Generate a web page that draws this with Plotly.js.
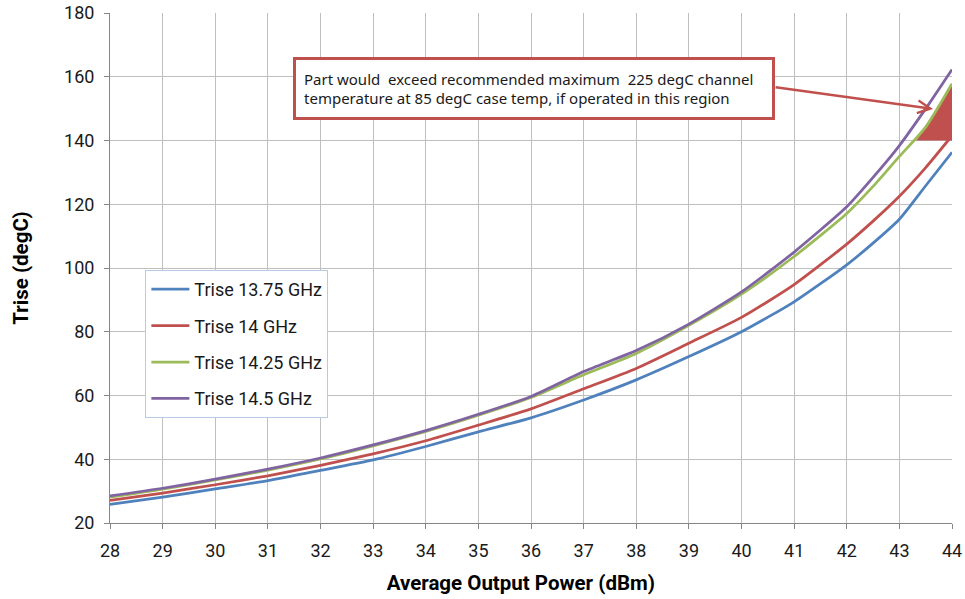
<!DOCTYPE html>
<html>
<head>
<meta charset="utf-8">
<script src="https://cdn.plot.ly/plotly-3.0.1.min.js"></script>
<style>
  html, body { margin: 0; padding: 0; background: #ffffff; }
  #chart { width: 965px; height: 599px; }
</style>
</head>
<body>
<div id="chart"></div>
<script>
// Output power (dBm)
const powerDbm = [28, 29, 30, 31, 32, 33, 34, 35, 36, 37, 38, 39, 40, 41, 42, 42.5, 43, 43.5, 44];

// Temperature rise (degC) per frequency
const trise1375 = [25.8, 28.1, 30.7, 33.3, 36.5, 39.8, 44.0, 48.6, 53.0, 58.6, 64.9, 72.2, 80.0, 89.4, 101.0, 107.8, 115.3, 125.8, 136.3];
const trise14   = [27.1, 29.4, 32.0, 34.8, 38.1, 41.7, 45.8, 50.7, 55.8, 62.1, 68.5, 76.4, 84.5, 94.8, 107.5, 114.7, 122.5, 131.5, 141.5];
const trise1425 = [28.1, 30.6, 33.5, 36.6, 40.1, 44.2, 48.7, 53.8, 59.4, 66.5, 73.2, 82.0, 91.8, 103.6, 117.1, 125.6, 135.0, 144.2, 157.8];
const trise145  = [28.5, 30.9, 33.75, 36.9, 40.4, 44.5, 49.0, 54.1, 59.7, 67.5, 74.1, 82.4, 92.5, 105.0, 119.2, 128.4, 138.4, 150.0, 162.3];

const seriesNames = ["Trise 13.75 GHz", "Trise 14 GHz", "Trise 14.25 GHz", "Trise 14.5 GHz"];
const seriesColors = ["#4F81BD", "#C0504D", "#9BBB59", "#8064A2"];

// Region above 225 degC channel temperature (hand-drawn warning triangle)
const regionX = [43.33, 44, 44];
const regionY = [140, 157.5, 140];

// Callout
const calloutText = "Part would  exceed recommended maximum  225 degC channel<br>temperature at 85 degC case temp, if operated in this region";
const calloutCenter = [36.06, 156.3];
const arrowTail = [40.62, 156.8];
const arrowHead = [43.64, 149.9];

const xTicks = [28, 29, 30, 31, 32, 33, 34, 35, 36, 37, 38, 39, 40, 41, 42, 43, 44];
const yTicks = [20, 40, 60, 80, 100, 120, 140, 160, 180];

const seriesData = [trise1375, trise14, trise1425, trise145];

const traces = [{
  x: regionX, y: regionY, type: "scatter", mode: "lines",
  fill: "toself", fillcolor: "#C0504D", line: { color: "#C0504D", width: 1 },
  showlegend: false, hoverinfo: "skip", legendgroup: "region"
}];
seriesData.forEach((ys, i) => {
  traces.push({
    x: powerDbm, y: ys, type: "scatter", mode: "lines",
    name: seriesNames[i], legendgroup: "g" + i,
    line: { color: seriesColors[i], width: 2.75, shape: "spline", smoothing: 0.6 }
  });
});

const tickFont = { family: "Roboto, sans-serif", size: 18, color: "#1a1a1a" };
const titleFont = { family: "Roboto, sans-serif", size: 20.5, color: "#000000", weight: "bold" };

const layout = {
  width: 965, height: 599,
  margin: { l: 110, r: 13, t: 13, b: 76 },
  paper_bgcolor: "#ffffff", plot_bgcolor: "#ffffff",
  font: { family: "Roboto, sans-serif" },
  xaxis: {
    range: [28, 44], tickvals: xTicks, ticktext: xTicks.map(String),
    showgrid: true, gridcolor: "#BFBFBF", gridwidth: 1,
    showline: true, linecolor: "#868686", linewidth: 1,
    ticks: "outside", ticklen: 5, tickcolor: "#868686",
    ticklabelstandoff: 6,
    zeroline: false, tickfont: tickFont,
    title: { text: "<b>Average Output Power (dBm)</b>&nbsp;&nbsp;&nbsp;&nbsp;", font: titleFont, standoff: 16 }
  },
  yaxis: {
    range: [20, 180], tickvals: yTicks, ticktext: yTicks.map(String),
    showgrid: true, gridcolor: "#BFBFBF", gridwidth: 1,
    showline: true, linecolor: "#868686", linewidth: 1,
    ticks: "outside", ticklen: 5, tickcolor: "#868686",
    ticklabelstandoff: 6,
    zeroline: false, tickfont: tickFont,
    title: { text: "<b>Trise (degC)</b>", font: titleFont, standoff: 29 }
  },
  legend: {
    x: 0.042, y: 0.496, xanchor: "left", yanchor: "top",
    bgcolor: "#ffffff", bordercolor: "#B9CBE4", borderwidth: 1,
    font: { family: "Roboto, sans-serif", size: 18, color: "#1a1a1a" },
    tracegroupgap: 10, traceorder: "grouped", itemwidth: 38
  },
  annotations: [
    {
      x: calloutCenter[0], y: calloutCenter[1], xref: "x", yref: "y",
      text: calloutText, showarrow: false, align: "left",
      xanchor: "center", yanchor: "middle",
      width: 460, height: 41,
      font: { family: "Noto Sans, sans-serif", size: 15, color: "#1a1a1a" },
      bgcolor: "#ffffff", bordercolor: "#C0504D", borderwidth: 3, borderpad: 8
    },
    {
      x: arrowHead[0], y: arrowHead[1], xref: "x", yref: "y",
      ax: arrowTail[0], ay: arrowTail[1], axref: "x", ayref: "y",
      text: "", showarrow: true, arrowhead: 5, arrowsize: 1, arrowwidth: 2.5,
      arrowcolor: "#C0504D"
    }
  ]
};

Plotly.newPlot("chart", traces, layout, { displayModeBar: false, staticPlot: true });
</script>
</body>
</html>
